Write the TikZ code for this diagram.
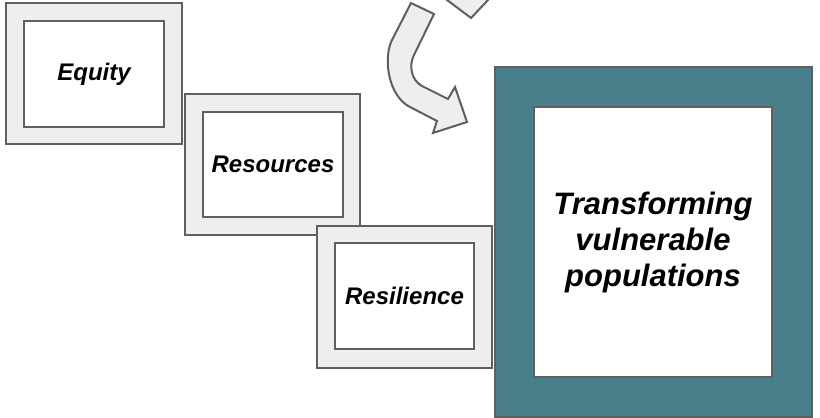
\documentclass[tikz,border=0pt]{standalone}
\usepackage{fontspec}
\setmainfont{Liberation Sans}
\definecolor{framegray}{HTML}{EEEEEE}
\definecolor{edgegray}{HTML}{5F5F5F}
\definecolor{tealframe}{HTML}{487F8B}
\begin{document}
\begin{tikzpicture}[x=1pt,y=-1pt,
  outerbox/.style={rectangle, draw=edgegray, line width=2pt, fill=framegray, inner sep=0pt},
  bigouter/.style={rectangle, draw=edgegray, line width=2pt, fill=tealframe, inner sep=0pt},
  innerbox/.style={rectangle, draw=edgegray, line width=2pt, fill=white, inner sep=0pt, align=center,
    font=\fontsize{24}{28}\selectfont\bfseries\itshape},
  biginner/.style={rectangle, draw=edgegray, line width=2pt, fill=white, inner sep=0pt, align=center,
    font=\fontsize{31}{36}\selectfont\bfseries\itshape},
  arrowshape/.style={draw=edgegray, line width=2pt, fill=framegray, line join=miter}]
\useasboundingbox (0,0) rectangle (820,418);
\clip (0,0) rectangle (820,418);
% top partial arrow
\draw[arrowshape] (435,-9) -- (471,18) -- (496.5,-9) -- cycle;
% curved arrow
\draw[arrowshape] (411,3) -- (392,40) .. controls (383,58) and (388,96) .. (410,107)
  -- (437,121) -- (433,133) -- (467,122) -- (455,87) -- (448,99)
  -- (422,86) .. controls (411.4,80.4) and (408.5,65.7) .. (414,55)
  -- (434,14) -- cycle;
% Equity
\node[outerbox, minimum width=176pt, minimum height=141pt] (eqo) at (94,73.5) {};
\node[innerbox, minimum width=140pt, minimum height=106pt] (eq) at (94,74) {Equity};
% Resources
\node[outerbox, minimum width=175pt, minimum height=141pt] (reo) at (272.5,164.5) {};
\node[innerbox, minimum width=140pt, minimum height=105pt] (re) at (273,164.5) {Resources};
% Resilience
\node[outerbox, minimum width=175pt, minimum height=142pt] (rso) at (404.5,297) {};
\node[innerbox, minimum width=139pt, minimum height=106pt] (rs) at (404.5,296) {Resilience};
% Big
\node[bigouter, minimum width=317pt, minimum height=350pt] (bgo) at (653.5,242) {};
\node[biginner, minimum width=238pt, minimum height=270pt] (bg) at (653,242) {Transforming\\vulnerable\\populations};
\end{tikzpicture}
\end{document}
